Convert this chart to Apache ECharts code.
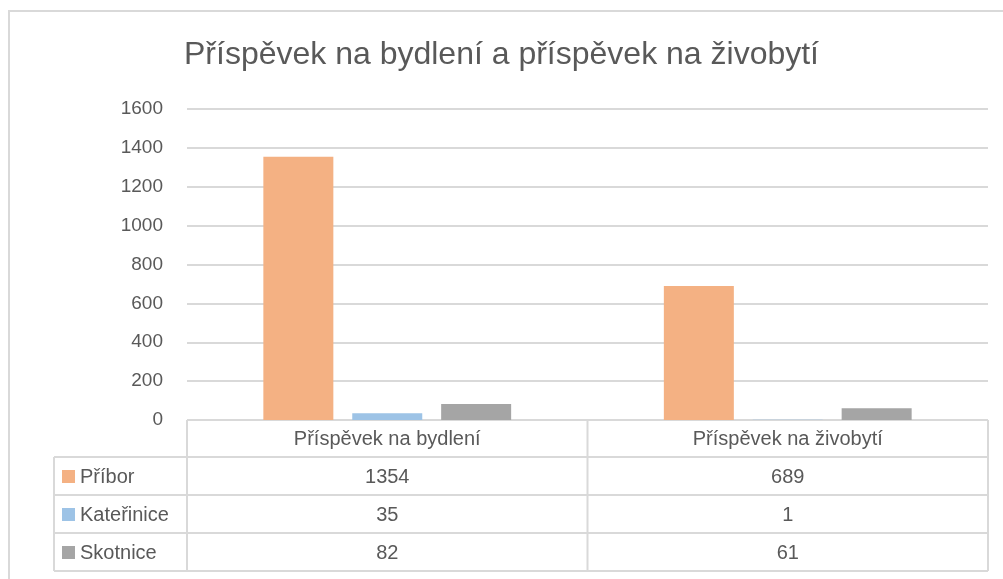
<!DOCTYPE html>
<html>
<head>
<meta charset="utf-8">
<script src="https://cdn.jsdelivr.net/npm/echarts@6/dist/echarts.min.js"></script>
<style>
  html, body { margin: 0; padding: 0; background: #fff; }
  #chart { width: 1003px; height: 579px; }
</style>
</head>
<body>
<div id="chart"></div>
<script>
// data
const categories = ['Příspěvek na bydlení', 'Příspěvek na živobytí'];
const seriesNames = ['Příbor', 'Kateřinice', 'Skotnice'];
const pribor = [1354, 689];
const katerinice = [35, 1];
const skotnice = [82, 61];
const yTicks = [0, 200, 400, 600, 800, 1000, 1200, 1400, 1600];

const colors = ['#F4B183', '#9DC3E6', '#A5A5A5'];
const allValues = [pribor, katerinice, skotnice];
const FONT = '"Liberation Sans", Arial, sans-serif';
const TXT = '#595959';
const LINE = '#D9D9D9';
const TFONT = '20px ' + FONT;

const chart = echarts.init(document.getElementById('chart'));

// plot box (also used for the data table below)
const plotL = 187, plotR = 988, plotT = 109, plotB = 420;
const rowH = [37, 38, 38, 38];
const labelLeft = 54;

// data table drawn as graphic elements
const g = [];
// outer chart frame
g.push({ type: 'polyline', shape: { points: [[9, 579], [9, 11], [1003, 11]] },
  style: { stroke: LINE, lineWidth: 2, fill: 'none' }, silent: true });

let yy = plotB;
const rowY = [yy];
rowH.forEach(h => { yy += h; rowY.push(yy); });
const colX = [plotL, (plotL + plotR) / 2, plotR];

// horizontal lines
rowY.forEach((ry, i) => {
  const x0 = i === 0 ? plotL : labelLeft;
  g.push({ type: 'line', shape: { x1: x0, y1: ry, x2: plotR, y2: ry },
    style: { stroke: LINE, lineWidth: 2 }, silent: true });
});
// vertical lines
colX.forEach(cx => {
  g.push({ type: 'line', shape: { x1: cx, y1: rowY[0], x2: cx, y2: rowY[4] },
    style: { stroke: LINE, lineWidth: 2 }, silent: true });
});
g.push({ type: 'line', shape: { x1: labelLeft, y1: rowY[1], x2: labelLeft, y2: rowY[4] },
  style: { stroke: LINE, lineWidth: 2 }, silent: true });

// header texts
categories.forEach((c, j) => {
  g.push({ type: 'text', silent: true, style: {
    text: c, x: (colX[j] + colX[j + 1]) / 2, y: (rowY[0] + rowY[1]) / 2 + 1,
    align: 'center', verticalAlign: 'middle', fill: TXT, font: TFONT } });
});
// series rows
seriesNames.forEach((s, i) => {
  const cy = (rowY[i + 1] + rowY[i + 2]) / 2;
  g.push({ type: 'rect', silent: true, shape: { x: 62, y: cy - 6, width: 13, height: 13 },
    style: { fill: colors[i] } });
  g.push({ type: 'text', silent: true, style: {
    text: s, x: 80, y: cy + 1, align: 'left', verticalAlign: 'middle',
    fill: TXT, font: TFONT } });
  allValues[i].forEach((v, j) => {
    g.push({ type: 'text', silent: true, style: {
      text: String(v), x: (colX[j] + colX[j + 1]) / 2, y: cy + 1,
      align: 'center', verticalAlign: 'middle', fill: TXT, font: TFONT } });
  });
});

chart.setOption({
  animation: false,
  backgroundColor: '#fff',
  title: {
    text: 'Příspěvek na bydlení a příspěvek na živobytí',
    left: 'center', top: 34,
    textStyle: { color: TXT, fontFamily: FONT, fontSize: 32, fontWeight: 'normal' }
  },
  grid: { left: plotL, right: 1003 - plotR, top: plotT, bottom: 579 - plotB, containLabel: false },
  xAxis: {
    type: 'category', data: categories,
    axisLine: { show: false }, axisTick: { show: false }, axisLabel: { show: false }
  },
  yAxis: {
    type: 'value', min: yTicks[0], max: yTicks[yTicks.length - 1], interval: 200,
    axisLine: { show: false }, axisTick: { show: false },
    axisLabel: { color: TXT, fontFamily: FONT, fontSize: 19, margin: 24, formatter: v => String(v) },
    splitLine: { lineStyle: { color: LINE, width: 2 } }
  },
  series: seriesNames.map((name, i) => ({
    name: name, type: 'bar', data: allValues[i],
    barWidth: 70, barGap: '27%',
    itemStyle: { color: colors[i] }
  })),
  graphic: g
});
</script>
</body>
</html>
